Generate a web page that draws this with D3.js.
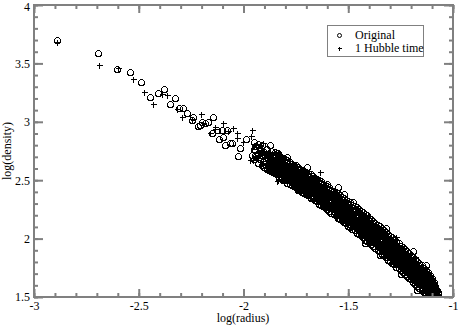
<!DOCTYPE html>
<html>
<head>
<meta charset="utf-8">
<script src="https://cdn.jsdelivr.net/npm/d3@7"></script>
<style>
  body { margin: 0; background: #fff; }
  svg { display: block; }
  svg text { font-family: "Liberation Serif", "DejaVu Serif", serif; font-size: 12px; }
</style>
</head>
<body>
<div id="chart"></div>
<script>
(function() {

  var width = 458, height = 326;

  // tick labels
  var xTicks = [-3, -2.5, -2, -1.5, -1];
  var yTicks = [1.5, 2, 2.5, 3, 3.5, 4];

  // scattered points, [log(radius), log(density)]
  var originalSparse = [
    [-2.890,3.700],[-2.695,3.589],[-2.604,3.452],[-2.542,3.426],[-2.489,3.341],
    [-2.446,3.212],[-2.408,3.247],[-2.379,3.281],[-2.351,3.152],[-2.327,3.204],
    [-2.308,3.118],[-2.289,3.118],[-2.270,3.075],[-2.246,3.015],[-2.241,3.041],
    [-2.217,2.964],[-2.208,2.973],[-2.198,2.998],[-2.184,2.990],[-2.169,2.998],
    [-2.146,3.041],[-2.150,2.904],[-2.126,2.930],[-2.103,2.930],[-2.098,2.870],
    [-2.079,2.930],[-2.064,2.818],[-2.055,2.818],[-2.017,2.776],[-1.945,2.759],
    [-1.874,2.801],[-1.835,2.733],[-1.792,2.699],[-1.883,2.630],[-1.811,2.587],
    [-1.802,2.527],[-1.730,2.459],[-1.697,2.613],[-1.745,2.433],[-1.988,2.853],
    [-1.959,2.716],[-1.916,2.776],[-2.026,2.707],[-2.088,2.801],[-2.117,2.853],
    [-1.549,2.442],[-1.477,2.313],[-1.649,2.348],[-1.600,2.470],[-1.420,1.960],
    [-1.320,2.090],[-1.250,1.700],[-1.190,1.890],[-1.350,1.860],[-1.520,2.380],
    [-1.170,1.560],[-1.130,1.770]
  ];
  var hubbleSparse = [
    [-2.890,3.683],[-2.690,3.486],[-2.599,3.461],[-2.527,3.366],[-2.475,3.255],
    [-2.432,3.152],[-2.389,3.238],[-2.365,3.229],[-2.317,3.110],[-2.294,3.041],
    [-2.246,3.024],[-2.203,3.067],[-2.160,2.904],[-2.136,2.938],[-2.098,2.990],
    [-2.050,2.947],[-2.031,2.904],[-2.031,2.861],[-1.959,2.930],[-1.964,2.878],
    [-1.907,2.818],[-1.969,2.673],[-1.955,2.673],[-1.835,2.502],[-1.635,2.570],
    [-1.840,2.493],[-2.002,2.827],[-2.074,2.921],[-2.136,2.955],[-2.193,2.990],
    [-1.931,2.741],[-1.888,2.733],[-1.864,2.690],[-1.270,2.010],[-1.400,2.190],
    [-1.560,2.190],[-1.330,1.850],[-1.180,1.840]
  ];

  // dense part of the cloud: [log(radius), log(density) values at that radius]
  var originalBand = [
    [-1.95,2.68,2.77,2.83],[-1.94,2.71,2.79],[-1.93,2.65,2.73,2.81],[-1.92,2.68,2.76],
    [-1.91,2.63,2.72,2.80],[-1.90,2.61,2.67,2.74],[-1.89,2.60,2.70,2.77],[-1.88,2.59,2.65,2.72],
    [-1.87,2.58,2.63,2.69,2.75],[-1.86,2.57,2.62,2.67,2.71],[-1.85,2.56,2.61,2.66,2.70,2.74],
    [-1.84,2.55,2.59,2.65,2.68,2.73],[-1.83,2.53,2.58,2.62,2.68,2.72],[-1.82,2.52,2.56,2.61,2.66,2.70],
    [-1.81,2.50,2.56,2.60,2.65,2.69],[-1.80,2.50,2.54,2.58,2.63,2.68],[-1.79,2.48,2.53,2.58,2.61,2.67],
    [-1.78,2.47,2.51,2.57,2.62,2.66],[-1.77,2.46,2.51,2.54,2.60,2.64],[-1.76,2.45,2.49,2.55,2.59,2.63],
    [-1.75,2.44,2.48,2.53,2.58,2.63],[-1.74,2.42,2.47,2.53,2.56,2.61],[-1.73,2.42,2.46,2.50,2.56,2.60],
    [-1.72,2.40,2.45,2.51,2.54,2.59],[-1.71,2.39,2.44,2.48,2.54,2.58],[-1.70,2.38,2.42,2.48,2.53,2.57],
    [-1.69,2.37,2.42,2.46,2.50,2.56],[-1.68,2.35,2.41,2.45,2.51,2.55],[-1.67,2.35,2.39,2.44,2.48,2.54],
    [-1.66,2.33,2.38,2.43,2.48,2.52],[-1.65,2.32,2.37,2.41,2.46,2.51],[-1.64,2.30,2.36,2.41,2.45,2.50],
    [-1.63,2.29,2.34,2.38,2.44,2.49],[-1.62,2.28,2.32,2.38,2.43,2.47],[-1.61,2.27,2.31,2.36,2.41,2.46],
    [-1.60,2.25,2.30,2.35,2.40,2.45],[-1.59,2.24,2.29,2.33,2.39,2.44],[-1.58,2.22,2.28,2.32,2.37,2.42],
    [-1.57,2.21,2.26,2.31,2.36,2.41],[-1.56,2.20,2.25,2.30,2.34,2.40],[-1.55,2.18,2.23,2.29,2.33,2.39],
    [-1.54,2.17,2.22,2.27,2.32,2.37],[-1.53,2.16,2.21,2.25,2.31,2.36],[-1.52,2.14,2.19,2.24,2.29,2.35],
    [-1.51,2.13,2.18,2.23,2.28,2.33],[-1.50,2.11,2.16,2.22,2.27,2.32],[-1.49,2.10,2.15,2.21,2.25,2.31],
    [-1.48,2.08,2.14,2.19,2.24,2.29],[-1.47,2.07,2.12,2.17,2.23,2.28],[-1.46,2.05,2.11,2.16,2.21,2.27],
    [-1.45,2.04,2.09,2.14,2.20,2.25],[-1.44,2.03,2.08,2.13,2.18,2.24],[-1.43,2.01,2.06,2.12,2.17,2.23],
    [-1.42,1.99,2.05,2.10,2.16,2.21],[-1.41,1.98,2.03,2.09,2.14,2.20],[-1.40,1.97,2.02,2.07,2.13,2.18],
    [-1.39,1.95,2.00,2.06,2.11,2.17],[-1.38,1.94,1.99,2.05,2.10,2.15],[-1.37,1.92,1.97,2.03,2.08,2.13],
    [-1.36,1.90,1.96,2.01,2.06,2.12],[-1.35,1.89,1.94,2.00,2.05,2.11],[-1.34,1.87,1.93,1.98,2.04,2.09],
    [-1.33,1.86,1.91,1.96,2.02,2.07],[-1.32,1.84,1.90,1.95,2.00,2.06],[-1.31,1.82,1.88,1.93,1.99,2.04],
    [-1.30,1.81,1.86,1.92,1.97,2.02],[-1.29,1.79,1.85,1.90,1.95,2.01],[-1.28,1.78,1.83,1.89,1.94,2.00],
    [-1.27,1.76,1.82,1.87,1.92,1.98],[-1.26,1.75,1.80,1.85,1.91,1.96],[-1.25,1.73,1.78,1.84,1.89,1.94],
    [-1.24,1.71,1.77,1.82,1.87,1.93],[-1.23,1.70,1.75,1.80,1.86,1.91],[-1.22,1.68,1.73,1.79,1.84,1.89],
    [-1.21,1.66,1.72,1.77,1.82,1.88],[-1.20,1.65,1.70,1.75,1.81,1.86],[-1.19,1.63,1.68,1.74,1.79,1.84],
    [-1.18,1.61,1.66,1.72,1.77,1.82],[-1.17,1.59,1.65,1.70,1.75,1.81],[-1.16,1.58,1.63,1.68,1.74,1.79],
    [-1.15,1.56,1.61,1.67,1.72,1.77],[-1.14,1.54,1.60,1.65,1.70,1.75],[-1.13,1.53,1.58,1.63,1.68,1.73],
    [-1.12,1.51,1.56,1.61,1.66,1.71],[-1.11,1.50,1.55,1.59,1.64,1.69],[-1.10,1.49,1.53,1.58,1.62,1.66],
    [-1.09,1.51,1.55,1.60,1.63],[-1.08,1.49,1.53,1.57],[-1.07,1.50,1.54]
  ];
  var originalBand2 = [
    [-1.945,2.72,2.79],[-1.925,2.70,2.78],[-1.905,2.66,2.75],[-1.895,2.64,2.72],[-1.885,2.62,2.69],
    [-1.875,2.60,2.66,2.72],[-1.865,2.59,2.64,2.70],[-1.855,2.58,2.63,2.69,2.72],
    [-1.845,2.57,2.62,2.67,2.72],[-1.835,2.56,2.61,2.66,2.71],[-1.825,2.55,2.60,2.64,2.69],
    [-1.815,2.53,2.58,2.63,2.68],[-1.805,2.52,2.57,2.62,2.67],[-1.795,2.51,2.56,2.61,2.66],
    [-1.785,2.50,2.55,2.60,2.65],[-1.775,2.49,2.54,2.59,2.64],[-1.765,2.48,2.53,2.58,2.63],
    [-1.755,2.47,2.52,2.57,2.61],[-1.745,2.46,2.50,2.55,2.60],[-1.735,2.44,2.49,2.54,2.59],
    [-1.725,2.43,2.48,2.53,2.58],[-1.715,2.42,2.47,2.52,2.57],[-1.705,2.41,2.46,2.51,2.56],
    [-1.695,2.40,2.45,2.50,2.55],[-1.685,2.39,2.44,2.49,2.54],[-1.675,2.37,2.43,2.47,2.52],
    [-1.665,2.36,2.41,2.46,2.51],[-1.655,2.35,2.40,2.45,2.50],[-1.645,2.34,2.39,2.44,2.49],
    [-1.635,2.33,2.38,2.42,2.47],[-1.625,2.31,2.36,2.41,2.46],[-1.615,2.30,2.35,2.40,2.45],
    [-1.605,2.29,2.34,2.39,2.43],[-1.595,2.27,2.32,2.37,2.42],[-1.585,2.26,2.31,2.36,2.41],
    [-1.575,2.25,2.30,2.35,2.40],[-1.565,2.23,2.28,2.33,2.38],[-1.555,2.22,2.27,2.32,2.37],
    [-1.545,2.21,2.26,2.31,2.36],[-1.535,2.19,2.24,2.29,2.34],[-1.525,2.18,2.23,2.28,2.33],
    [-1.515,2.17,2.22,2.27,2.31],[-1.505,2.15,2.20,2.25,2.30],[-1.495,2.14,2.19,2.24,2.29],
    [-1.485,2.12,2.17,2.22,2.27],[-1.475,2.11,2.16,2.21,2.26],[-1.465,2.10,2.15,2.20,2.25],
    [-1.455,2.08,2.13,2.18,2.23],[-1.445,2.07,2.12,2.17,2.22],[-1.435,2.05,2.10,2.15,2.20],
    [-1.425,2.04,2.09,2.14,2.19],[-1.415,2.02,2.07,2.12,2.18],[-1.405,2.01,2.06,2.11,2.16],
    [-1.395,2.00,2.05,2.10,2.15],[-1.385,1.98,2.03,2.08,2.13],[-1.375,1.97,2.02,2.06,2.11],
    [-1.365,1.95,2.00,2.05,2.10],[-1.355,1.93,1.98,2.03,2.08],[-1.345,1.92,1.97,2.02,2.07],
    [-1.335,1.90,1.95,2.00,2.05],[-1.325,1.89,1.94,1.98,2.03],[-1.315,1.87,1.92,1.97,2.02],
    [-1.305,1.85,1.90,1.95,2.00],[-1.295,1.84,1.89,1.94,1.99],[-1.285,1.82,1.87,1.92,1.97],
    [-1.275,1.80,1.85,1.90,1.95],[-1.265,1.79,1.84,1.89,1.94],[-1.255,1.77,1.82,1.87,1.92],
    [-1.245,1.76,1.81,1.86,1.91],[-1.235,1.74,1.79,1.84,1.89],[-1.225,1.72,1.77,1.82,1.87],
    [-1.215,1.71,1.76,1.81,1.85],[-1.205,1.69,1.74,1.79,1.84],[-1.195,1.67,1.72,1.77,1.82],
    [-1.185,1.65,1.70,1.75,1.80],[-1.175,1.64,1.69,1.74,1.78],[-1.165,1.62,1.67,1.72,1.77],
    [-1.155,1.60,1.65,1.70,1.75],[-1.145,1.58,1.63,1.68,1.73],[-1.135,1.56,1.61,1.66,1.71],
    [-1.125,1.55,1.60,1.64,1.69],[-1.115,1.53,1.58,1.63,1.68],[-1.105,1.51,1.56,1.61,1.65],
    [-1.095,1.50,1.54,1.59,1.62],[-1.085,1.50,1.55,1.59],[-1.075,1.51,1.56]
  ];
  var hubbleBand = [
    [-1.88,2.61,2.69,2.74],[-1.87,2.60,2.66],[-1.86,2.63,2.70],[-1.85,2.58,2.65,2.72],
    [-1.84,2.57,2.64,2.70],[-1.83,2.55,2.62,2.69],[-1.82,2.54,2.60,2.68],[-1.81,2.53,2.61,2.66],
    [-1.80,2.52,2.59,2.65],[-1.79,2.50,2.57,2.64],[-1.78,2.49,2.56,2.64],[-1.77,2.48,2.55,2.62],
    [-1.76,2.47,2.55,2.61],[-1.75,2.46,2.53,2.60],[-1.74,2.45,2.52,2.60],[-1.73,2.44,2.51,2.58],
    [-1.72,2.43,2.50,2.57],[-1.71,2.42,2.49,2.56],[-1.70,2.40,2.48,2.55],[-1.69,2.39,2.47,2.54],
    [-1.68,2.38,2.45,2.53],[-1.67,2.37,2.44,2.51],[-1.66,2.36,2.43,2.50],[-1.65,2.34,2.42,2.49],
    [-1.64,2.33,2.41,2.47],[-1.63,2.32,2.39,2.46],[-1.62,2.31,2.38,2.45],[-1.61,2.29,2.37,2.44],
    [-1.60,2.28,2.35,2.42],[-1.59,2.27,2.34,2.41],[-1.58,2.25,2.33,2.40],[-1.57,2.24,2.31,2.39],
    [-1.56,2.23,2.30,2.37],[-1.55,2.21,2.29,2.36],[-1.54,2.20,2.28,2.34],[-1.53,2.19,2.26,2.33],
    [-1.52,2.17,2.25,2.32],[-1.51,2.16,2.23,2.30],[-1.50,2.15,2.22,2.29],[-1.49,2.13,2.21,2.27],
    [-1.48,2.12,2.19,2.26],[-1.47,2.10,2.18,2.25],[-1.46,2.09,2.16,2.23],[-1.45,2.08,2.15,2.22],
    [-1.44,2.06,2.14,2.20],[-1.43,2.05,2.12,2.19],[-1.42,2.03,2.11,2.18],[-1.41,2.02,2.09,2.16],
    [-1.40,2.00,2.08,2.15],[-1.39,1.99,2.06,2.13],[-1.38,1.97,2.05,2.12],[-1.37,1.96,2.03,2.10],
    [-1.36,1.94,2.02,2.09],[-1.35,1.93,2.00,2.07],[-1.34,1.91,1.98,2.05],[-1.33,1.89,1.97,2.04],
    [-1.32,1.88,1.95,2.02],[-1.31,1.86,1.94,2.01],[-1.30,1.85,1.92,1.99],[-1.29,1.83,1.90,1.97],
    [-1.28,1.82,1.89,1.96],[-1.27,1.80,1.87,1.94],[-1.26,1.78,1.86,1.93],[-1.25,1.77,1.84,1.91],
    [-1.24,1.75,1.82,1.89],[-1.23,1.73,1.81,1.88],[-1.22,1.72,1.79,1.86],[-1.21,1.70,1.77,1.84],
    [-1.20,1.68,1.76,1.83],[-1.19,1.67,1.74,1.81],[-1.18,1.65,1.72,1.79],[-1.17,1.63,1.70,1.77],
    [-1.16,1.61,1.68,1.75],[-1.15,1.60,1.67,1.73],[-1.14,1.58,1.65,1.72],[-1.13,1.56,1.63,1.70],
    [-1.12,1.54,1.61,1.68],[-1.11,1.53,1.60,1.66],[-1.10,1.51,1.58,1.64],[-1.09,1.52,1.59],
    [-1.08,1.51,1.56]
  ];
  var hubbleBand2 = [
    [-1.845,2.60,2.68],[-1.835,2.59,2.67],[-1.825,2.58,2.66],[-1.815,2.57,2.65],[-1.805,2.56,2.64],
    [-1.795,2.55,2.62],[-1.785,2.53,2.61],[-1.775,2.52,2.60],[-1.765,2.51,2.59],[-1.755,2.50,2.58],
    [-1.745,2.49,2.57],[-1.735,2.48,2.56],[-1.725,2.47,2.55],[-1.715,2.46,2.54],[-1.705,2.45,2.53],
    [-1.695,2.43,2.51],[-1.685,2.42,2.50],[-1.675,2.41,2.49],[-1.665,2.40,2.48],[-1.655,2.39,2.47],
    [-1.645,2.37,2.45],[-1.635,2.36,2.44],[-1.625,2.35,2.43],[-1.615,2.33,2.41],[-1.605,2.32,2.40],
    [-1.595,2.31,2.39],[-1.585,2.30,2.37],[-1.575,2.28,2.36],[-1.565,2.27,2.35],[-1.555,2.26,2.34],
    [-1.545,2.24,2.32],[-1.535,2.23,2.31],[-1.525,2.22,2.30],[-1.515,2.20,2.28],[-1.505,2.19,2.27],
    [-1.495,2.17,2.25],[-1.485,2.16,2.24],[-1.475,2.15,2.23],[-1.465,2.13,2.21],[-1.455,2.12,2.20],
    [-1.445,2.10,2.18],[-1.435,2.09,2.17],[-1.425,2.08,2.16],[-1.415,2.06,2.14],[-1.405,2.05,2.13],
    [-1.395,2.03,2.11],[-1.385,2.02,2.10],[-1.375,2.00,2.08],[-1.365,1.98,2.06],[-1.355,1.97,2.05],
    [-1.345,1.95,2.03],[-1.335,1.94,2.02],[-1.325,1.92,2.00],[-1.315,1.90,1.98],[-1.305,1.89,1.97],
    [-1.295,1.87,1.95],[-1.285,1.86,1.94],[-1.275,1.84,1.92],[-1.265,1.82,1.90],[-1.255,1.81,1.89],
    [-1.245,1.79,1.87],[-1.235,1.77,1.85],[-1.225,1.76,1.84],[-1.215,1.74,1.82],[-1.205,1.72,1.80],
    [-1.195,1.71,1.79],[-1.185,1.69,1.77],[-1.175,1.67,1.75],[-1.165,1.65,1.73],[-1.155,1.63,1.71],
    [-1.145,1.62,1.70],[-1.135,1.60,1.68],[-1.125,1.58,1.66],[-1.115,1.56,1.64],[-1.105,1.54,1.62],
    [-1.095,1.53,1.60]
  ];

  var legendLabels = ["Original", "1 Hubble time"];

  function unpack(rows) {
    return rows.flatMap(function(r) { return r.slice(1).map(function(v) { return [r[0], v]; }); });
  }
  var original = originalSparse.concat(unpack(originalBand), unpack(originalBand2));
  var hubble = hubbleSparse.concat(unpack(hubbleBand), unpack(hubbleBand2));

  var left = 34, right = 453, top = 5, bottom = 297;
  var serif = '"Liberation Serif", "DejaVu Serif", serif';

  var svg = d3.select("#chart").append("svg")
    .attr("width", width)
    .attr("height", height);

  var x = d3.scaleLinear().domain([-3, -1]).range([left, right]);
  var y = d3.scaleLinear().domain([1.5, 4]).range([bottom, top]);

  svg.append("clipPath").attr("id", "plotClip")
    .append("rect")
    .attr("x", left).attr("y", top)
    .attr("width", right - left).attr("height", bottom - top);

  //points
  var plot = svg.append("g").attr("clip-path", "url(#plotClip)");

  plot.selectAll("circle.orig")
    .data(original)
    .enter().append("circle")
    .attr("class", "orig")
    .attr("cx", function(d) { return Math.round(x(d[0])) + 0.5; })
    .attr("cy", function(d) { return Math.round(y(d[1])) + 0.5; })
    .attr("r", 3)
    .attr("fill", "none")
    .attr("stroke", "#000")
    .attr("stroke-width", 1)
    .attr("shape-rendering", "crispEdges");

  plot.selectAll("path.hub")
    .data(hubble)
    .enter().append("path")
    .attr("class", "hub")
    .attr("transform", function(d) {
      return "translate(" + (Math.round(x(d[0])) + 0.5) + "," + (Math.round(y(d[1])) + 0.5) + ")";
    })
    .attr("d", "M-3,0H3M0,-3V3")
    .attr("stroke", "#000")
    .attr("stroke-width", 1)
    .attr("shape-rendering", "crispEdges");

  //axes
  var axisColor = "#808080";
  var xMinor = d3.range(-3, -0.99, 0.1);
  var yMinor = d3.range(1.5, 4.01, 0.1);
  var fmt = function(d) { return String(d); };

  function styleAxis(g) {
    g.attr("font-family", null).attr("font-size", null);
    g.select(".domain").remove();
    g.selectAll(".tick line").attr("stroke", axisColor).attr("stroke-width", 2);
    g.selectAll(".tick text").attr("fill", "#000")
      .style("font-family", serif).style("font-size", "12px");
  }

  svg.append("g").attr("transform", "translate(0," + bottom + ")")
    .call(d3.axisBottom(x).tickValues(xMinor).tickSize(-4).tickFormat("")).call(styleAxis);
  svg.append("g").attr("transform", "translate(0," + bottom + ")")
    .call(d3.axisBottom(x).tickValues(xTicks).tickSize(-8).tickPadding(4).tickFormat(fmt)).call(styleAxis);
  svg.append("g").attr("transform", "translate(0," + top + ")")
    .call(d3.axisTop(x).tickValues(xMinor).tickSize(-4).tickFormat("")).call(styleAxis);
  svg.append("g").attr("transform", "translate(0," + top + ")")
    .call(d3.axisTop(x).tickValues(xTicks).tickSize(-8).tickFormat("")).call(styleAxis);

  svg.append("g").attr("transform", "translate(" + left + ",0)")
    .call(d3.axisLeft(y).tickValues(yMinor).tickSize(-4).tickFormat("")).call(styleAxis);
  var yAxisG = svg.append("g").attr("transform", "translate(" + left + ",0)")
    .call(d3.axisLeft(y).tickValues(yTicks).tickSize(-9).tickPadding(4).tickFormat(fmt)).call(styleAxis);
  // keep the top label inside the page
  yAxisG.selectAll(".tick text").filter(function(d) { return d === 4; }).attr("dy", "0.45em");
  svg.append("g").attr("transform", "translate(" + right + ",0)")
    .call(d3.axisRight(y).tickValues(yMinor).tickSize(-4).tickFormat("")).call(styleAxis);
  svg.append("g").attr("transform", "translate(" + right + ",0)")
    .call(d3.axisRight(y).tickValues(yTicks).tickSize(-9).tickFormat("")).call(styleAxis);

  svg.append("rect")
    .attr("x", left).attr("y", top)
    .attr("width", right - left).attr("height", bottom - top)
    .attr("fill", "none")
    .attr("stroke", axisColor)
    .attr("stroke-width", 2);

  //axis titles
  svg.append("text")
    .attr("x", 243).attr("y", 322)
    .attr("text-anchor", "middle")
    .style("font-family", serif)
    .text("log(radius)");

  svg.append("text")
    .attr("transform", "translate(11," + ((top + bottom) / 2) + ") rotate(-90)")
    .attr("text-anchor", "middle")
    .style("font-family", serif)
    .text("log(density)");

  //legend
  var legend = svg.append("g");
  legend.append("rect")
    .attr("x", 327.5).attr("y", 25.5)
    .attr("width", 96).attr("height", 31)
    .attr("fill", "#fff")
    .attr("stroke", axisColor)
    .attr("stroke-width", 1);

  legend.append("circle")
    .attr("cx", 339.5).attr("cy", 35.5).attr("r", 2)
    .attr("fill", "none").attr("stroke", "#000").attr("stroke-width", 1);
  legend.append("path")
    .attr("transform", "translate(339.5,48.5)")
    .attr("d", "M-2,0H2M0,-2V2")
    .attr("stroke", "#000").attr("stroke-width", 1)
    .attr("shape-rendering", "crispEdges");

  legend.selectAll("text.leg")
    .data(legendLabels)
    .enter().append("text")
    .attr("class", "leg")
    .attr("x", 355)
    .attr("y", function(d, i) { return 39 + i * 13; })
    .style("font-family", serif)
    .text(function(d) { return d; });

})();
</script>
</body>
</html>
